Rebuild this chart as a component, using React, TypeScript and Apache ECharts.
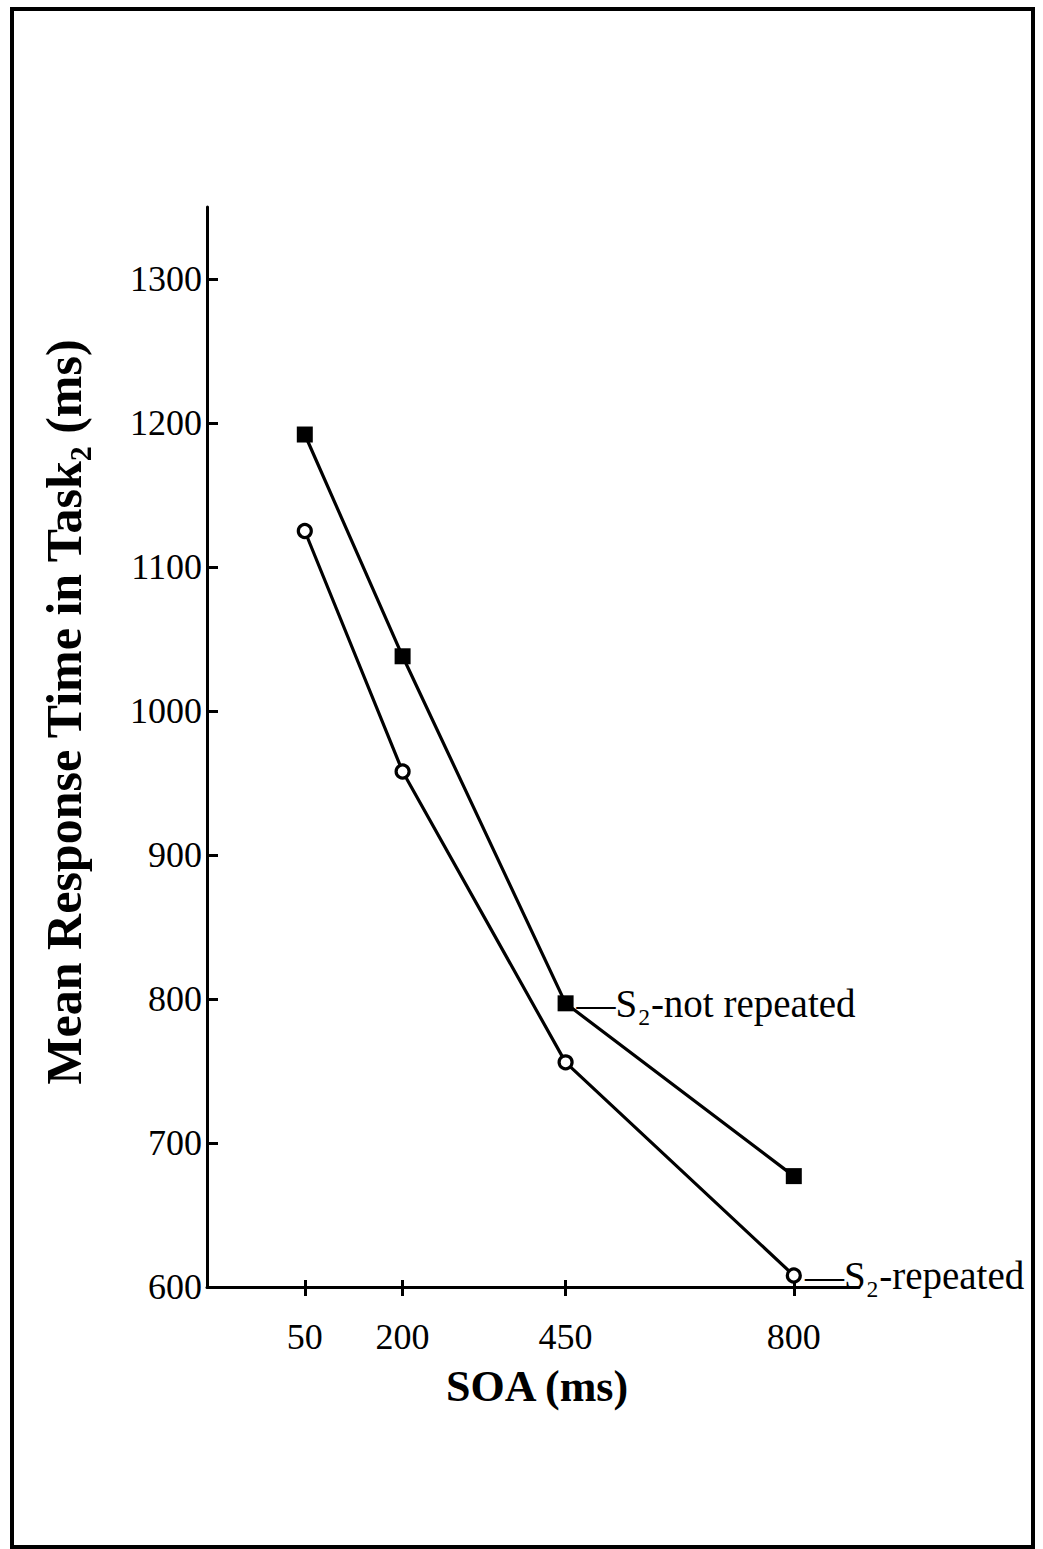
import React, { useEffect, useRef } from "react";
import * as echarts from "echarts";

// SOA levels (ms) and mean Task2 response times (ms)
const soa = [50, 200, 450, 800];
const notRepeated = [1192, 1038, 797, 677];
const repeated = [1125, 958, 756, 608];

const xTickValues = [50, 200, 450, 800];
const yTickValues = [600, 700, 800, 900, 1000, 1100, 1200, 1300];

const notRepeatedLabel = "—S₂-not repeated";
const repeatedLabel = "—S₂-repeated";
const notRepeatedLabelIndex = 2;
const repeatedLabelIndex = 3;

const yTitle = "Mean Response Time in Task₂ (ms)";
const xTitle = "SOA (ms)";

const FONT = "'Liberation Serif', 'DejaVu Serif', serif";

function buildData(values: number[], labelIndex: number, text: string) {
  return values.map((v, i) => {
    const item: any = { value: [soa[i], v] };
    if (i === labelIndex) {
      item.label = {
        show: true,
        position: "right",
        distance: 3,
        formatter: text,
        color: "#000",
        fontFamily: FONT,
        fontSize: 39,
      };
    }
    return item;
  });
}

export default function App() {
  const ref = useRef<HTMLDivElement>(null);

  useEffect(() => {
    if (!ref.current) return;
    const chart = echarts.init(ref.current, null, { renderer: "svg" });
    chart.setOption({
      animation: false,
      backgroundColor: "#fff",
      grid: { left: 207, top: 207, width: 652, height: 1080 },
      xAxis: [
        {
          type: "value",
          min: -100,
          max: 900,
          axisLine: { show: true, onZero: false, lineStyle: { color: "#000", width: 3 } },
          axisTick: { show: true, inside: false, length: 9, customValues: xTickValues, lineStyle: { color: "#000", width: 3 } },
          axisLabel: {
            show: true,
            customValues: xTickValues,
            margin: 32,
            color: "#000",
            fontFamily: FONT,
            fontSize: 36,
            formatter: (v: number) => String(v),
          },
          splitLine: { show: false },
        },
        {
          type: "value",
          min: -100,
          max: 900,
          position: "bottom",
          axisLine: { show: false },
          axisTick: { show: true, inside: true, length: 7, customValues: xTickValues, lineStyle: { color: "#000", width: 3 } },
          axisLabel: { show: false },
          splitLine: { show: false },
        },
      ],
      yAxis: {
        type: "value",
        min: 600,
        max: 1350,
        interval: 100,
        axisLine: { show: true, onZero: false, lineStyle: { color: "#000", width: 3 } },
        axisTick: { show: true, inside: true, length: 11, customValues: yTickValues, lineStyle: { color: "#000", width: 3 } },
        axisLabel: {
          show: true,
          customValues: yTickValues,
          margin: 5,
          color: "#000",
          fontFamily: FONT,
          fontSize: 36,
          formatter: (v: number) => String(v),
        },
        splitLine: { show: false },
      },
      series: [
        {
          name: "S₂-not repeated",
          type: "line",
          data: buildData(notRepeated, notRepeatedLabelIndex, notRepeatedLabel),
          symbol: "rect",
          symbolSize: 16,
          lineStyle: { color: "#000", width: 3.2 },
          itemStyle: { color: "#000", borderColor: "#000", borderWidth: 0 },
          z: 3,
        },
        {
          name: "S₂-repeated",
          type: "line",
          data: buildData(repeated, repeatedLabelIndex, repeatedLabel),
          symbol: "circle",
          symbolSize: 13,
          showAllSymbol: true,
          lineStyle: { color: "#000", width: 3.2 },
          itemStyle: { color: "#fff", borderColor: "#000", borderWidth: 3.2 },
          z: 3,
        },
      ],
      graphic: [
        {
          type: "rect",
          shape: { x: 12, y: 9, width: 1021, height: 1538 },
          style: { fill: "none", stroke: "#000", lineWidth: 4 },
          silent: true,
        },
        {
          type: "text",
          x: 64,
          y: 712,
          rotation: Math.PI / 2,
          style: {
            text: yTitle,
            fill: "#000",
            font: `bold 50px ${FONT}`,
            align: "center",
            verticalAlign: "middle",
          },
        },
        {
          type: "text",
          x: 537,
          y: 1386,
          style: {
            text: xTitle,
            fill: "#000",
            font: `bold 44px ${FONT}`,
            align: "center",
            verticalAlign: "middle",
          },
        },
      ],
    });
    return () => chart.dispose();
  }, []);

  return (
    <div
      ref={ref}
      style={{ position: "fixed", left: 0, top: 0, width: 1043, height: 1549, background: "#fff" }}
    />
  );
}
